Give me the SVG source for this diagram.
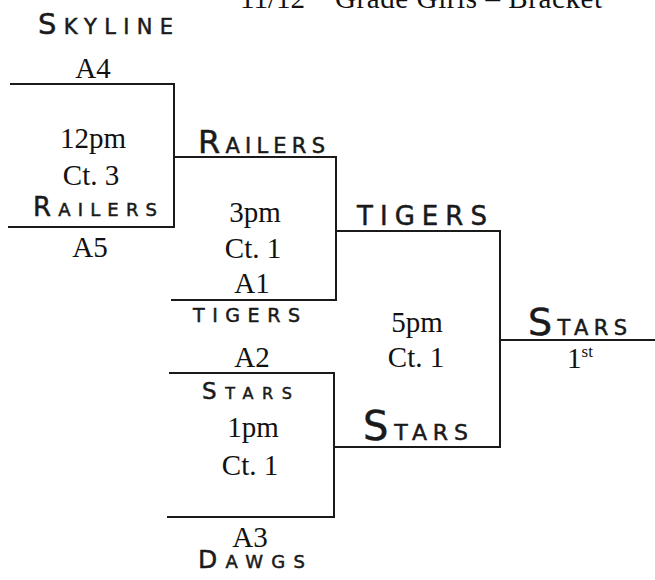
<svg xmlns="http://www.w3.org/2000/svg" width="655" height="580" viewBox="0 0 655 580">
<style>
.ln{stroke:#1a1a1a;stroke-width:2;fill:none;stroke-linecap:square}
.t{font-family:"Liberation Serif","Times New Roman",serif;font-size:29px;fill:#111;text-anchor:middle}
.h{font-family:"DejaVu Sans","Liberation Sans",sans-serif;fill:#1a1a1a;stroke:#1a1a1a;stroke-width:0.5}
</style>
<rect width="655" height="580" fill="#fff"/>
<g id="title">
<text class="t" style="text-anchor:start" x="240" y="8">11/12<tspan font-size="17" dy="-12">th</tspan><tspan x="335" dy="12" textLength="267" lengthAdjust="spacing">Grade Girls – Bracket</tspan></text>
</g>
<g id="connectors">
<path class="ln" d="M11,84 H174 V227 H9"/>
<path class="ln" d="M174,157 H336 V300 H172"/>
<path class="ln" d="M170,373 H334 V517 H168"/>
<path class="ln" d="M336,231 H500 V447 H334"/>
<path class="ln" d="M500,340 H655"/>
</g>
<g id="slot-a4">
<text class="h" font-size="21" x="38" y="34" textLength="135" lengthAdjust="spacing"><tspan font-size="29">S</tspan>KYLINE</text>
<text class="t" x="93" y="78">A4</text>
</g>
<g id="game-12pm">
<text class="t" x="93" y="148">12pm</text>
<text class="t" x="91" y="185">Ct. 3</text>
</g>
<g id="slot-a5">
<text class="h" font-size="18" x="33" y="216" textLength="124" lengthAdjust="spacing"><tspan font-size="26">R</tspan>AILERS</text>
<text class="t" x="90" y="257">A5</text>
</g>
<g id="winner-12pm">
<text class="h" font-size="21" x="198" y="153" textLength="127" lengthAdjust="spacing"><tspan font-size="32">R</tspan>AILERS</text>
</g>
<g id="game-3pm">
<text class="t" x="255" y="222">3pm</text>
<text class="t" x="253" y="258">Ct. 1</text>
</g>
<g id="slot-a1">
<text class="t" x="252" y="293">A1</text>
<text class="h" font-size="19" x="193" y="322" textLength="107" lengthAdjust="spacing">TIGERS</text>
</g>
<g id="slot-a2">
<text class="t" x="252" y="367">A2</text>
<text class="h" font-size="16" x="202" y="399" textLength="90" lengthAdjust="spacing"><tspan font-size="23">S</tspan>TARS</text>
</g>
<g id="game-1pm">
<text class="t" x="253" y="437">1pm</text>
<text class="t" x="250" y="475">Ct. 1</text>
</g>
<g id="slot-a3">
<text class="t" x="250" y="547">A3</text>
<text class="h" font-size="18" x="198" y="568" textLength="107" lengthAdjust="spacing"><tspan font-size="25">D</tspan>AWGS</text>
</g>
<g id="winner-3pm">
<text class="h" font-size="26" x="357" y="225" textLength="130" lengthAdjust="spacing">TIGERS</text>
</g>
<g id="game-5pm">
<text class="t" x="417" y="332">5pm</text>
<text class="t" x="416" y="367">Ct. 1</text>
</g>
<g id="winner-1pm">
<text class="h" font-size="22" x="363" y="440" textLength="105" lengthAdjust="spacing"><tspan font-size="40">S</tspan>TARS</text>
</g>
<g id="champion">
<text class="h" font-size="21" x="528" y="335" textLength="99" lengthAdjust="spacing"><tspan font-size="38">S</tspan>TARS</text>
<text class="t" x="580" y="368">1<tspan font-size="17" dy="-11">st</tspan></text>
</g>
</svg>
